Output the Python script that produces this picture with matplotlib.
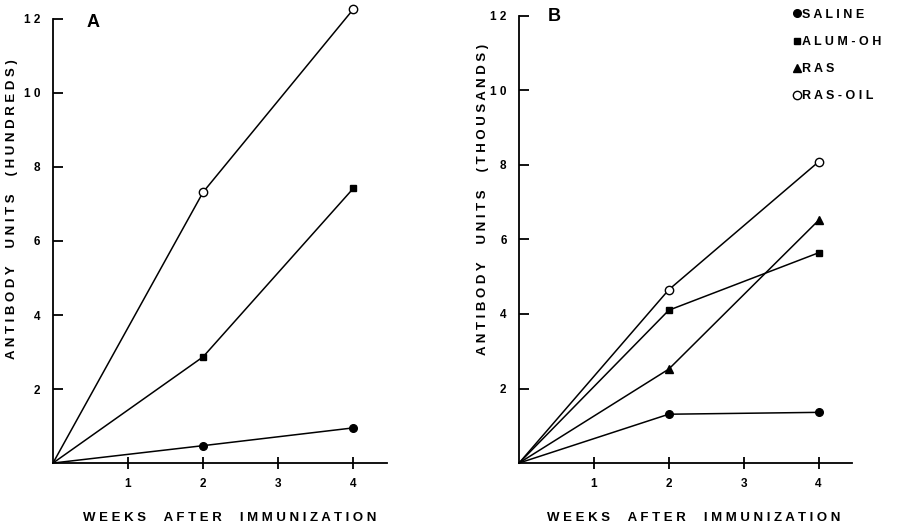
import matplotlib.pyplot as plt
from matplotlib.lines import Line2D

plt.rcParams['font.family'] = ['Liberation Sans', 'DejaVu Sans']
plt.rcParams['font.weight'] = 'bold'

weeks = [0, 2, 4]

# panel A, antibody units (hundreds)
a_saline = [0, 0.47, 0.95]
a_alum = [0, 2.87, 7.42]
a_rasoil = [0, 7.32, 12.26]

# panel B, antibody units (thousands)
b_saline = [0, 1.31, 1.36]
b_alum = [0, 4.10, 5.64]
b_ras = [0, 2.52, 6.51]
b_rasoil = [0, 4.65, 8.08]

x_ticks = [1, 2, 3, 4]
y_ticks = [2, 4, 6, 8, 10, 12]
legend_labels = ["SALINE", "ALUM-OH", "RAS", "RAS-OIL"]


def spaced(s, gap=" "):
    return gap.join(list(s))


def spaced_words(words):
    return "     ".join(spaced(w) for w in words)


xlabel = spaced_words(["WEEKS", "AFTER", "IMMUNIZATION"])

fig = plt.figure(figsize=(8.98, 5.25), dpi=100)
axA = fig.add_axes([0.059, 0.118, 0.372, 0.846])
axB = fig.add_axes([0.578, 0.118, 0.371, 0.852])

styles = {
    "saline": dict(marker='o', mfc='black', mec='black', ms=5.5),
    "alum": dict(marker='s', mfc='black', mec='black', ms=5),
    "ras": dict(marker='^', mfc='black', mec='black', ms=5.5),
    "rasoil": dict(marker='o', mfc='white', mec='black', ms=6, mew=1.0),
}


def draw(ax, series, ylab, letter, letter_xy, ylab_xy, xlab_xy):
    for key, vals in series:
        ax.plot(weeks, vals, color='black', lw=1.1, clip_on=False,
                markevery=[1, 2], **styles[key])
    ax.set_xlim(0, 4.45)
    ax.set_ylim(0, 12)
    ax.spines['top'].set_visible(False)
    ax.spines['right'].set_visible(False)
    ax.spines['left'].set_linewidth(1.3)
    ax.spines['bottom'].set_linewidth(1.3)
    ax.set_xticks(x_ticks)
    ax.set_yticks(y_ticks)
    ax.set_xticklabels([str(t) for t in x_ticks], fontsize=8.5, fontweight='bold')
    ax.set_yticklabels([spaced(str(t)) if t >= 10 else str(t) for t in y_ticks],
                       fontsize=8.5, fontweight='bold')
    ax.tick_params(axis='x', direction='inout', length=9, width=1.3, pad=6)
    ax.tick_params(axis='y', direction='in', length=7, width=1.3, pad=9)
    ax.set_xlabel(xlabel, fontsize=9.5, fontweight='bold')
    ax.xaxis.set_label_coords(*xlab_xy)
    ax.text(letter_xy[0], letter_xy[1], letter, transform=ax.transAxes,
            fontsize=13, fontweight='bold', ha='center', va='center')
    ax.set_ylabel(ylab, fontsize=9.5, fontweight='bold')
    ax.yaxis.set_label_coords(*ylab_xy)


draw(axA, [("saline", a_saline), ("alum", a_alum), ("rasoil", a_rasoil)],
     spaced_words(["ANTIBODY", "UNITS", "(HUNDREDS)"]), "A",
     (0.12, 0.993), (-0.105, 0.572), (0.528, -0.11))
draw(axB, [("saline", b_saline), ("alum", b_alum), ("ras", b_ras), ("rasoil", b_rasoil)],
     spaced_words(["ANTIBODY", "UNITS", "(THOUSANDS)"]), "B",
     (0.105, 0.998), (-0.09, 0.59), (0.524, -0.109))

handles = [Line2D([], [], ls='none', color='black', **styles[k])
           for k in ["saline", "alum", "ras", "rasoil"]]
fig.legend(handles, [spaced(l) for l in legend_labels], loc='upper left',
           bbox_to_anchor=(0.871, 1.005), frameon=False,
           handlelength=0.5, handletextpad=0.2, labelspacing=1.22,
           prop={'weight': 'bold', 'size': 9})

fig.savefig("out.png", dpi=100)
